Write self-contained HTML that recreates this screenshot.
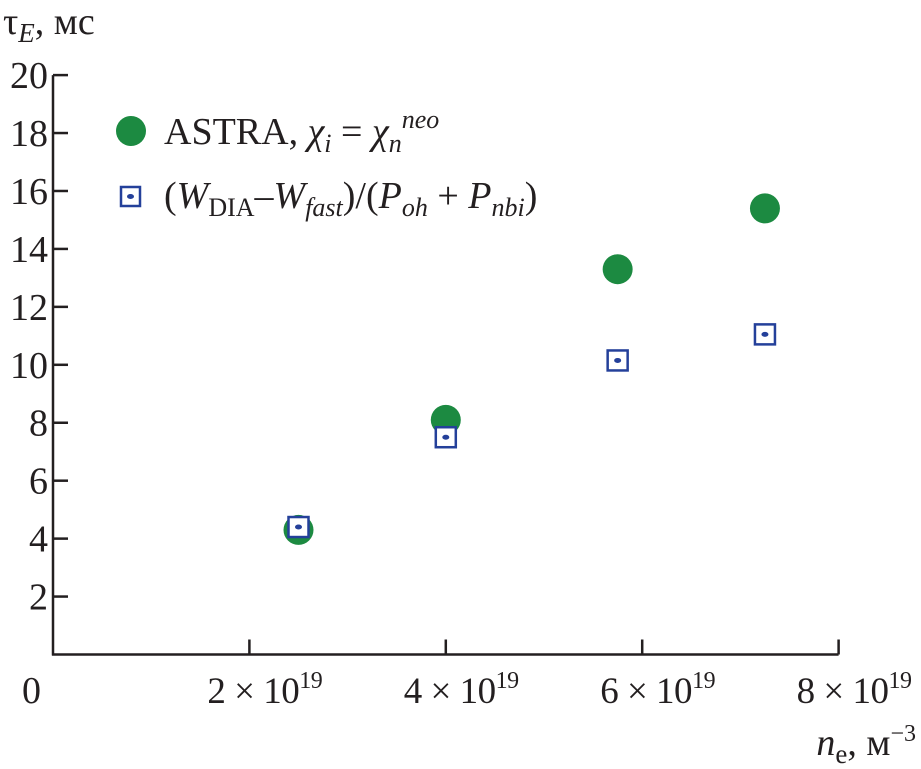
<!DOCTYPE html>
<html><head><meta charset="utf-8"><style>
body{margin:0;background:#fff}
svg{display:block}
text{font-family:"Liberation Serif",serif;fill:#231f20}
</style></head><body>
<svg id="chart" width="921" height="769" viewBox="0 0 921 769" xmlns="http://www.w3.org/2000/svg">
<g id="axes"></g>
<g id="marks"></g>
<g>
  <circle cx="131" cy="131" r="15" fill="#1c8a41"/>
  <text x="164" y="144" font-size="38">ASTRA, <tspan font-style="italic">χ</tspan><tspan font-style="italic" font-size="26" dy="8">i</tspan><tspan dy="-8"> = </tspan><tspan font-style="italic">χ</tspan><tspan font-style="italic" font-size="26" dy="8">n</tspan><tspan font-style="italic" font-size="26" dy="-24">neo</tspan></text>
  <rect x="121" y="187" width="19" height="19" fill="none" stroke="#24409a" stroke-width="2.5"/>
  <ellipse cx="130.5" cy="196.5" rx="3.5" ry="2.5" fill="#24409a"/>
  <text x="164" y="208" font-size="38">(<tspan font-style="italic">W</tspan><tspan font-size="26" dy="8">DIA</tspan><tspan dy="-8">–</tspan><tspan font-style="italic">W</tspan><tspan font-style="italic" font-size="26" dy="8">fast</tspan><tspan dy="-8">)/(</tspan><tspan font-style="italic">P</tspan><tspan font-style="italic" font-size="26" dy="8">oh</tspan><tspan dy="-8"> + </tspan><tspan font-style="italic">P</tspan><tspan font-style="italic" font-size="26" dy="8">nbi</tspan><tspan dy="-8">)</tspan></text>
</g>
<text x="3" y="34" font-size="38">τ<tspan font-style="italic" font-size="27" dy="8">E</tspan><tspan dy="-8">, мс</tspan></text>
<text x="916" y="755" font-size="38" text-anchor="end"><tspan font-style="italic">n</tspan><tspan font-size="27" dy="8">e</tspan><tspan dy="-8">, м</tspan><tspan font-size="24" dy="-14">−3</tspan></text>
</svg>
<script>
const xTicks=[2,4,6,8];
const yTicks=[2,4,6,8,10,12,14,16,18,20];
const densityAstra=[2.5,4.0,5.75,7.25];
const tauAstra=[4.3,8.1,13.3,15.4];
const densityDia=[2.5,4.0,5.75,7.25];
const tauDia=[4.4,7.5,10.15,11.05];
const NS='http://www.w3.org/2000/svg';
const X0=53,XS=98.2,Y0=654.5,YS=28.97;
function sx(v){return X0+v*XS;}
function sy(v){return Y0-v*YS;}
function mk(t,a,p){const e=document.createElementNS(NS,t);for(const k in a)e.setAttribute(k,a[k]);p.appendChild(e);return e;}
const ax=document.getElementById('axes'),mg=document.getElementById('marks');
let l=mk('line',{x1:X0,y1:sy(20),x2:X0,y2:Y0+1,stroke:'#231f20','stroke-width':2.5},ax);


l=mk('line',{x1:X0-1,y1:Y0,x2:sx(8),y2:Y0,stroke:'#231f20','stroke-width':2.5},ax);


yTicks.forEach(v=>{
  const t=mk('line',{x1:X0,y1:sy(v),x2:X0+15,y2:sy(v),stroke:'#231f20','stroke-width':2.5},ax);
  
  
  const tx=mk('text',{x:X0-5,y:sy(v)+13,'font-size':38,'text-anchor':'end'},ax);
  tx.textContent=v;
  
  
});
const z=mk('text',{x:22,y:703,'font-size':38},ax);z.textContent='0';


xTicks.forEach(v=>{
  const t=mk('line',{x1:sx(v),y1:Y0,x2:sx(v),y2:Y0-15,stroke:'#231f20','stroke-width':2.5},ax);
  
  
  const tx=mk('text',{x:sx(v)-42,y:703,'font-size':37,'letter-spacing':-0.5},ax);
  tx.innerHTML=v+' × 10<tspan font-size="24" dy="-15">19</tspan>';
  
  
});
densityAstra.forEach((d,i)=>{
  const c=mk('circle',{cx:sx(d),cy:sy(tauAstra[i]),r:15,fill:'#1c8a41'},mg);
  
  
});
densityDia.forEach((d,i)=>{
  const x=sx(d),y=sy(tauDia[i]);
  const r=mk('rect',{x:x-10,y:y-10,width:20,height:20,fill:'#fff',stroke:'#24409a','stroke-width':2.5},mg);
  
  
  mk('ellipse',{cx:x,cy:y,rx:3.5,ry:2.5,fill:'#24409a'},mg);
});
</script>
</body></html>
